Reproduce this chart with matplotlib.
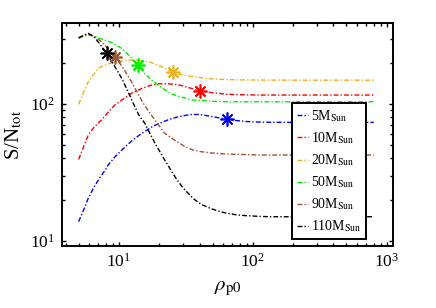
import matplotlib
matplotlib.use("Agg")
import matplotlib.pyplot as plt
from matplotlib.ticker import NullFormatter, LogLocator

plt.rcParams['font.family'] = ['Liberation Serif', 'DejaVu Serif']
plt.rcParams['mathtext.fontset'] = 'stix'

# values (rho_p0, S/N_tot)
x_5 = [5, 5.5, 5.9, 6.5, 7.2, 7.9, 8.3, 9.3, 10.5, 12.5, 14.8, 18, 22, 24, 28, 34,
       40, 48, 55, 64, 75, 90, 110, 134, 200, 400, 800]
y_5 = [13.8, 17.2, 20.5, 24.6, 29, 32.9, 35.8, 41, 46.1, 54, 61.1, 69, 75, 77.5, 81, 83.8,
       84, 81.5, 79.5, 77.3, 75.8, 74.5, 73.9, 73.6, 73.5, 73.5, 73.5]

x_10 = [5, 5.5, 5.9, 6.5, 7.4, 8.3, 9.3, 10.5, 12.4, 14.8, 17.5, 20, 22, 25, 28.5, 34,
        40.3, 50, 64, 90, 113, 200, 400, 800]
y_10 = [39.4, 50, 59.3, 67.5, 76.4, 87, 98.3, 107, 119.8, 130, 137.7, 140.5, 141, 140, 137.7, 131,
        125.5, 121, 118, 116.8, 116.4, 116.4, 116.4, 116.4]

x_20 = [5, 5.5, 5.9, 6.5, 7.0, 7.7, 8.6, 10, 11.7, 13.8, 17, 20.2, 25.3, 30, 35.8, 45,
        57, 80, 113, 200, 400, 800]
y_20 = [99.5, 125, 145.6, 165, 182, 192, 198.7, 205, 210, 210, 203, 190, 171, 163, 158.5, 154,
        151.6, 150.3, 149.8, 149.5, 149.5, 149.5]

x_50 = [5, 5.5, 5.9, 6.5, 7.0, 8, 8.8, 10.5, 12, 13.8, 15.5, 17.5, 20.2, 24, 28.5, 35.8,
        48, 64, 100, 200, 400, 800]
y_50 = [302.6, 315, 319.8, 316, 305, 292, 282.5, 255, 225, 193, 168, 150, 135, 120, 113, 107,
        105, 104, 104, 104, 104, 104]

x_90 = [5, 5.5, 5.9, 6.5, 7.4, 8.3, 9.3, 10.5, 12.4, 13.8, 15.2, 17, 18.6, 20.2, 22, 24,
        26, 28.5, 31, 35.8, 40, 48, 64, 113, 200, 400, 800]
y_90 = [305, 318, 325, 315, 286, 255, 222, 190, 145.6, 120, 101.2, 86, 76.4, 68.3, 61.1, 57.7,
        54.5, 51.6, 49, 46.1, 45, 44.0, 43.1, 42.4, 42.4, 42.4, 42.4]

x_110 = [5, 5.5, 5.9, 6.5, 7.2, 8.1, 9.2, 10.5, 11.5, 12.8, 14, 15.6, 18.6, 22, 26.7, 30,
         35.8, 41, 48, 55, 64, 75, 87, 110, 134, 200, 400, 800]
y_110 = [305, 320, 329, 310, 275, 235, 192, 154, 128, 101.2, 84, 72.3, 51.6, 38.9, 28.6, 24.5,
         20.4, 18.5, 17.3, 16.5, 15.9, 15.5, 15.3, 15.1, 15.0, 15.0, 15.0, 15.0]

# star markers
star_x = [64, 40.3, 25.3, 13.8, 9.3, 8.1]
star_y = [77.3, 125.5, 171, 193, 222, 235]

labels = [r'5M$_{\mathrm{Sun}}$', r'10M$_{\mathrm{Sun}}$', r'20M$_{\mathrm{Sun}}$',
          r'50M$_{\mathrm{Sun}}$', r'90M$_{\mathrm{Sun}}$', r'110M$_{\mathrm{Sun}}$']
colors = ['#0000FF', '#FF0000', '#EDB120', '#00EE00', '#A0522D', '#000000']

xs = [x_5, x_10, x_20, x_50, x_90, x_110]
ys = [y_5, y_10, y_20, y_50, y_90, y_110]

fig = plt.figure(figsize=(4.36, 3.08), dpi=100)
ax = fig.add_axes([0.142, 0.201, 0.759, 0.724])

for i in range(len(xs)):
    ax.plot(xs[i], ys[i], linestyle=(0, (3.5, 1.5, 1, 1.5)), color=colors[i], lw=1.0,
            label=labels[i])
for i in range(len(xs)):
    ax.plot(star_x[i], star_y[i], linestyle='none', marker=(8, 2, 0),
            ms=10, mew=1.2, color=colors[i])

ax.set_xscale('log')
ax.set_yscale('log')
ax.set_xlim(3.75, 1110)
ax.set_ylim(9.15, 391)
ax.xaxis.set_minor_locator(LogLocator(base=10, subs=range(2, 10)))
ax.yaxis.set_minor_locator(LogLocator(base=10, subs=range(2, 10)))
ax.xaxis.set_minor_formatter(NullFormatter())
ax.yaxis.set_minor_formatter(NullFormatter())

ax.tick_params(which='both', direction='in', top=True, right=True, labelsize=12.5, width=1)
ax.tick_params(which='major', length=3, pad=5)
ax.tick_params(which='minor', length=2.5)
for s in ax.spines.values():
    s.set_linewidth(1.4)

ax.set_xlabel(r'$\rho_{\mathrm{p0}}$', fontsize=15, labelpad=6)
ax.set_ylabel(r'S/N$_{\mathrm{tot}}$', fontsize=15)

leg = ax.legend(loc='lower left', bbox_to_anchor=(0.695, 0.031), fontsize=10,
                handlelength=0.8, handletextpad=0.2, labelspacing=0.45,
                borderpad=0.35, borderaxespad=0, fancybox=False, framealpha=1,
                edgecolor='black')
leg.get_frame().set_linewidth(1.4)

fig.savefig('out.png', dpi=100)
